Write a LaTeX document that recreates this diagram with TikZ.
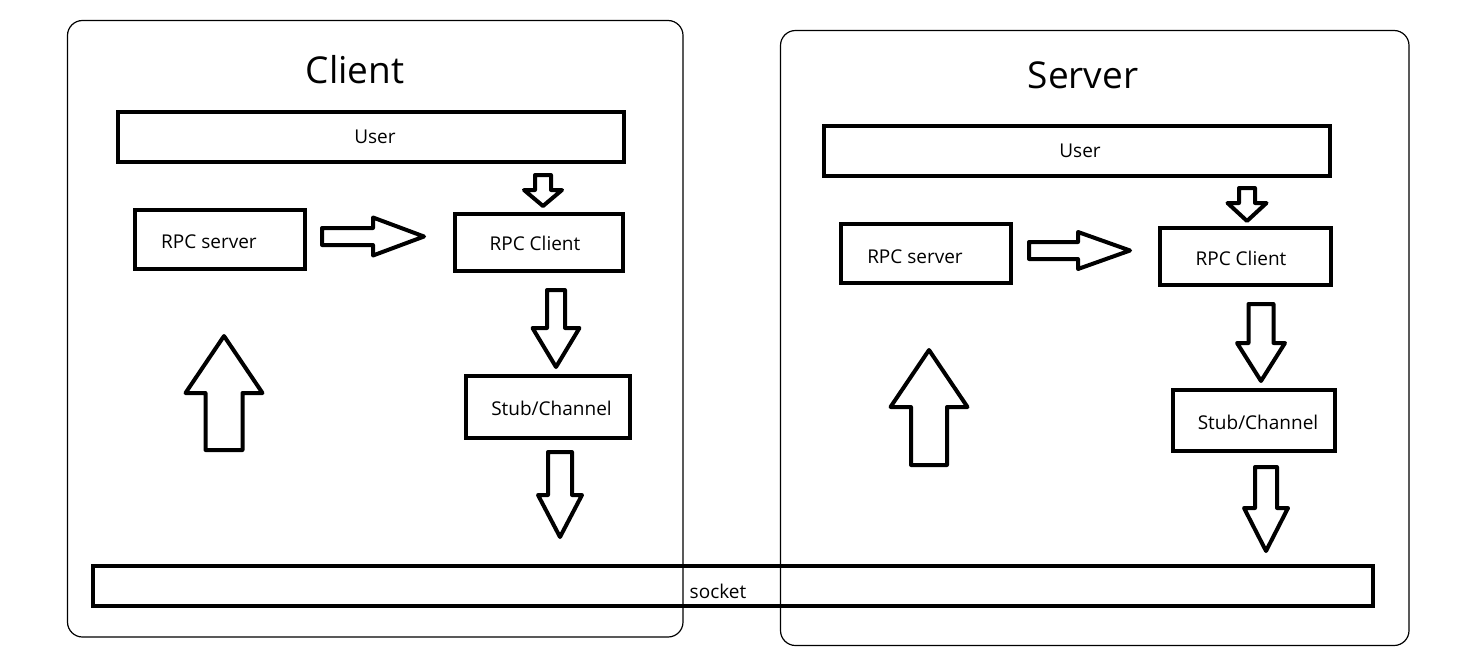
\documentclass[tikz,border=0pt]{standalone}
\usepackage{fontspec}
\setmainfont{Open Sans}
\newcommand\DnArrow[6]{% cx, shaft half, top, head start, head half, tip
  \draw[blk] ({#1-#2},#3) -- ({#1+#2},#3) -- ({#1+#2},#4) -- ({#1+#5},#4) -- (#1,#6) -- ({#1-#5},#4) -- ({#1-#2},#4) -- cycle;}
\newcommand\RtArrow[6]{% cy, shaft half, left, head start, head half, tip
  \draw[blk] (#3,{#1-#2}) -- (#4,{#1-#2}) -- (#4,{#1-#5}) -- (#6,#1) -- (#4,{#1+#5}) -- (#4,{#1+#2}) -- (#3,{#1+#2}) -- cycle;}
\begin{document}
\begin{tikzpicture}[x=1pt,y=-1pt,
  frame/.style={draw, line width=1.2pt, rounded corners=15pt, inner sep=0pt, outer sep=0pt},
  box/.style={draw, line width=4pt, inner sep=0pt, outer sep=0pt},
  blk/.style={draw, line width=4pt, line join=round},
  lbl/.style={font=\fontsize{19}{22}\selectfont, anchor=base, inner sep=0pt},
  ttl/.style={font=\fontsize{37}{44}\selectfont, anchor=base, inner sep=0pt}]
\useasboundingbox (0,0) rectangle (1458,656);
\fill[white] (0,0) rectangle (1458,656);
% frames
\node[frame, minimum width=615.5pt, minimum height=616.5pt] (cframe) at (375.25,328.75) {};
\node[frame, minimum width=628.5pt, minimum height=615pt] (sframe) at (1094.75,338) {};
% titles
\node[ttl] (ctitle) at (355,83) {Client};
\node[ttl] (stitle) at (1083,88) {Server};
% client boxes
\node[box, minimum width=506pt, minimum height=50pt] (cuser) at (371,137) {};
\node[box, minimum width=170pt, minimum height=59pt] (crpcs) at (220,239.5) {};
\node[box, minimum width=168pt, minimum height=57pt] (crpcc) at (539,242.5) {};
\node[box, minimum width=164pt, minimum height=62pt] (cstub) at (548,407) {};
% server boxes
\node[box, minimum width=506pt, minimum height=50pt] (suser) at (1077,151) {};
\node[box, minimum width=170pt, minimum height=59pt] (srpcs) at (926,253.5) {};
\node[box, minimum width=171pt, minimum height=57pt] (srpcc) at (1245.5,256.5) {};
\node[box, minimum width=162pt, minimum height=61pt] (sstub) at (1254,420.5) {};
% socket
\node[box, minimum width=1280pt, minimum height=40pt] (socket) at (733,586) {};
% labels
\node[lbl] (tcuser) at (375,143) {User};
\node[lbl] (tcrpcs) at (209,248) {RPC server};
\node[lbl] (tcrpcc) at (535,250.5) {RPC Client};
\node[lbl] (tcstub) at (551.5,415) {Stub/Channel};
\node[lbl] (tsuser) at (1080,157) {User};
\node[lbl] (tsrpcs) at (915,263) {RPC server};
\node[lbl] (tsrpcc) at (1241,265) {RPC Client};
\node[lbl] (tsstub) at (1258,429) {Stub/Channel};
\node[lbl] (tsock) at (718,598) {socket};
% client block arrows
\DnArrow{543}{8}{175}{190}{19}{206}
\RtArrow{236.5}{8.5}{322}{373}{19}{424}
\DnArrow{556}{9}{290}{328}{23.5}{367}
\DnArrow{560}{12}{452}{495}{22}{537}
\DnArrow{224}{18.5}{450}{393}{38.5}{336}
% server block arrows
\DnArrow{1247}{8}{188}{203}{19.5}{221}
\RtArrow{250.5}{8.5}{1029}{1078}{18.5}{1130}
\DnArrow{1261}{12.5}{304}{343}{24}{381}
\DnArrow{1266}{11}{467}{508}{22}{551}
\DnArrow{929}{18}{465}{407}{38.5}{350}
\end{tikzpicture}
\end{document}
